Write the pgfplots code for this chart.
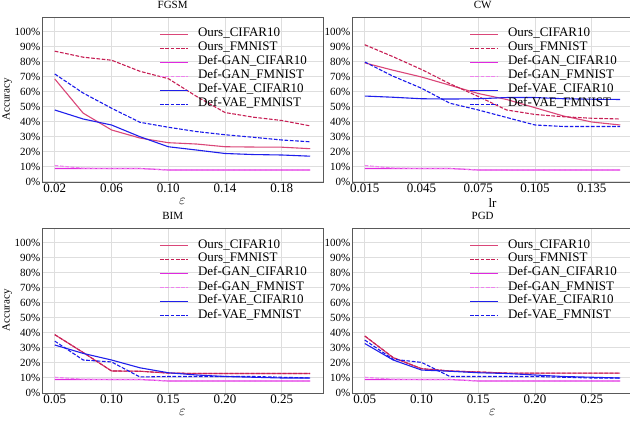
\documentclass[border=0pt]{standalone}
\usepackage{pgfplots}
\pgfplotsset{compat=1.18}
\usepackage{fontspec}
\setmainfont{Liberation Serif}
\definecolor{oursC}{rgb}{0.855,0.275,0.47}
\definecolor{oursF}{rgb}{0.78,0.12,0.33}
\definecolor{ganC}{rgb}{0.88,0.16,0.88}
\definecolor{ganF}{rgb}{0.933,0.51,0.933}
\definecolor{vaeC}{rgb}{0.12,0.12,0.92}
\definecolor{vaeF}{rgb}{0.1,0.1,0.92}
\definecolor{gridc}{rgb}{0.87,0.87,0.87}
\definecolor{framec}{rgb}{0.35,0.35,0.35}
\tikzset{
  oc/.style={color=oursC, line width=1.1bp},
  of/.style={color=oursF, line width=1.1bp, dash pattern=on 3.7bp off 1.6bp},
  gc/.style={color=ganC, line width=1.1bp},
  gf/.style={color=ganF, line width=1.1bp, dash pattern=on 3.7bp off 1.6bp},
  vc/.style={color=vaeC, line width=1.1bp},
  vf/.style={color=vaeF, line width=1.1bp, dash pattern=on 3.7bp off 1.6bp},
  legtext/.style={anchor=west, inner sep=0pt, outer sep=0pt, text height=9.5bp, text depth=4.5bp,
    font=\fontsize{13bp}{13bp}\selectfont},
}
% legend: sample lines drawn as short plots (x from #1 to #2), text as nodes
\newcommand{\mylegend}[2]{%
  \addplot[oc, line width=1.4bp, forget plot] coordinates {(#1,98.333) (#2,98.333)};
  \addplot[of, line width=1.4bp, forget plot] coordinates {(#1,89.0) (#2,89.0)};
  \addplot[gc, line width=1.4bp, forget plot] coordinates {(#1,79.667) (#2,79.667)};
  \addplot[gf, line width=1.4bp, forget plot] coordinates {(#1,70.333) (#2,70.333)};
  \addplot[vc, line width=1.4bp, forget plot] coordinates {(#1,61.0) (#2,61.0)};
  \addplot[vf, line width=1.4bp, forget plot] coordinates {(#1,51.667) (#2,51.667)};
  \node[legtext] at (rel axis cs:0.5552,0.89394) {Ours\_CIFAR10};
  \node[legtext] at (rel axis cs:0.5552,0.80909) {Ours\_FMNIST};
  \node[legtext] at (rel axis cs:0.5552,0.72424) {Def-GAN\_CIFAR10};
  \node[legtext] at (rel axis cs:0.5552,0.63939) {Def-GAN\_FMNIST};
  \node[legtext] at (rel axis cs:0.5552,0.55455) {Def-VAE\_CIFAR10};
  \node[legtext] at (rel axis cs:0.5552,0.46970) {Def-VAE\_FMNIST};
}
\pgfplotsset{
  myax/.style={
    scale only axis, width=281bp, height=165bp, anchor=south west,
    ymin=0, ymax=110,
    ytick={0,10,20,30,40,50,60,70,80,90,100},
    yticklabels={0\%,10\%,20\%,30\%,40\%,50\%,60\%,70\%,80\%,90\%,100\%},
    grid=major, major grid style={draw=gridc, line width=1bp},
    axis line style={draw=framec, line width=0.9bp},
    major tick length=0pt,
    yticklabel style={font=\fontsize{11bp}{11bp}\selectfont, inner sep=1.5bp},
    xticklabel style={font=\fontsize{13bp}{13bp}\selectfont, inner sep=2bp},
    xlabel style={font=\fontsize{15bp}{15bp}\selectfont, inner sep=1bp, yshift=-2bp},
    ylabel style={font=\fontsize{11bp}{11bp}\selectfont, inner sep=1bp},
    title style={font=\fontsize{11bp}{11bp}\selectfont, at={(0.465,1)}, anchor=south, inner sep=2.5bp},
  },
}
\begin{document}
\begin{tikzpicture}
% FGSM
\begin{axis}[myax, at={(42bp,240bp)}, title={FGSM}, xlabel={$\varepsilon$}, ylabel={Accuracy},
  xmin=0.011, xmax=0.209, xtick={0.02,0.06,0.10,0.14,0.18}, xticklabels={0.02,0.06,0.10,0.14,0.18}]
\addplot[oc] coordinates {(0.02,68.7) (0.04,45.9) (0.06,34.7) (0.08,29.3) (0.10,26.2) (0.12,25.3) (0.14,23.5) (0.16,23.3) (0.18,23.2) (0.20,22.2)};
\addplot[of] coordinates {(0.02,87.2) (0.04,83.2) (0.06,81.2) (0.08,73.8) (0.10,68.9) (0.12,57) (0.14,46.3) (0.16,43.2) (0.18,41) (0.20,37.4)};
\addplot[gc] coordinates {(0.02,9) (0.04,9) (0.06,9) (0.08,9) (0.10,8) (0.12,8) (0.14,8) (0.16,8) (0.18,8) (0.20,8)};
\addplot[gf] coordinates {(0.02,11) (0.04,9.2) (0.06,9) (0.08,9) (0.10,8) (0.12,8) (0.14,8) (0.16,8) (0.18,8) (0.20,8)};
\addplot[vc] coordinates {(0.02,48) (0.04,42) (0.06,38) (0.08,30.2) (0.10,23.5) (0.12,21.3) (0.14,19) (0.16,18.3) (0.18,18) (0.20,17.2)};
\addplot[vf] coordinates {(0.02,72) (0.04,59.3) (0.06,49.2) (0.08,39.8) (0.10,36.5) (0.12,33.6) (0.14,31.5) (0.16,29.8) (0.18,28) (0.20,26.8)};
\mylegend{0.09414}{0.11388}
\end{axis}
% CW
\begin{axis}[myax, at={(352bp,240bp)}, title={CW}, xlabel={lr}, xlabel style={font=\fontsize{13bp}{13bp}\selectfont},
  xmin=0.00825, xmax=0.15675, xtick={0.015,0.045,0.075,0.105,0.135}, xticklabels={0.015,0.045,0.075,0.105,0.135}]
\addplot[oc] coordinates {(0.015,79.4) (0.03,74.5) (0.045,70) (0.06,64.5) (0.075,59) (0.09,55) (0.105,49.5) (0.12,44) (0.135,40) (0.15,38)};
\addplot[of] coordinates {(0.015,91.5) (0.03,83.5) (0.045,75) (0.06,65.5) (0.075,57) (0.09,48) (0.105,45) (0.12,43.5) (0.135,42.5) (0.15,42)};
\addplot[gc] coordinates {(0.015,9) (0.03,9) (0.045,9) (0.06,9) (0.075,8) (0.09,8) (0.105,8) (0.12,8) (0.135,8) (0.15,8)};
\addplot[gf] coordinates {(0.015,11) (0.03,9.3) (0.045,9) (0.06,9) (0.075,8) (0.09,8) (0.105,8) (0.12,8) (0.135,8) (0.15,8)};
\addplot[vc] coordinates {(0.015,57.3) (0.03,56.5) (0.045,55.5) (0.06,55.3) (0.075,55.5) (0.09,56.3) (0.105,56.3) (0.12,55.5) (0.135,55.2) (0.15,55)};
\addplot[vf] coordinates {(0.015,80) (0.03,70.5) (0.045,62.5) (0.06,52.5) (0.075,48) (0.09,43) (0.105,38) (0.12,37) (0.135,37) (0.15,37)};
\mylegend{0.07061}{0.08541}
\end{axis}
% BIM
\begin{axis}[myax, at={(42bp,29bp)}, title={BIM}, xlabel={$\varepsilon$}, ylabel={Accuracy},
  xmin=0.03875, xmax=0.28625, xtick={0.05,0.10,0.15,0.20,0.25}, xticklabels={0.05,0.10,0.15,0.20,0.25}]
\addplot[oc] coordinates {(0.05,38.9) (0.075,27) (0.10,14.7) (0.125,14.5) (0.15,13.3) (0.175,13) (0.20,13) (0.225,13) (0.25,13) (0.275,13)};
\addplot[of] coordinates {(0.05,38.9) (0.075,27) (0.10,14.7) (0.125,14.5) (0.15,13.3) (0.175,13) (0.20,13) (0.225,13) (0.25,13) (0.275,13)};
\addplot[gc] coordinates {(0.05,9) (0.075,9) (0.10,9) (0.125,9) (0.15,8) (0.175,8) (0.20,8) (0.225,8) (0.25,8) (0.275,8)};
\addplot[gf] coordinates {(0.05,10.5) (0.075,9.2) (0.10,9) (0.125,9) (0.15,8) (0.175,8) (0.20,8) (0.225,8) (0.25,8) (0.275,8)};
\addplot[vc] coordinates {(0.05,32) (0.075,26.4) (0.10,22) (0.125,16.8) (0.15,13.5) (0.175,12) (0.20,11) (0.225,10.5) (0.25,10) (0.275,10)};
\addplot[vf] coordinates {(0.05,34.6) (0.075,22) (0.10,20.7) (0.125,10.7) (0.15,11) (0.175,11) (0.20,11) (0.225,11) (0.25,10.5) (0.275,10)};
\mylegend{0.14268}{0.16735}
\end{axis}
% PGD
\begin{axis}[myax, at={(352bp,29bp)}, title={PGD}, xlabel={$\varepsilon$},
  xmin=0.03875, xmax=0.28625, xtick={0.05,0.10,0.15,0.20,0.25}, xticklabels={0.05,0.10,0.15,0.20,0.25}]
\addplot[oc] coordinates {(0.05,38) (0.075,23.6) (0.10,16.2) (0.125,14.7) (0.15,14) (0.175,13.3) (0.20,13.2) (0.225,13.2) (0.25,13.2) (0.275,13.2)};
\addplot[of] coordinates {(0.05,38) (0.075,23.6) (0.10,16.2) (0.125,14.7) (0.15,14) (0.175,13.3) (0.20,13.2) (0.225,13.2) (0.25,13.2) (0.275,13.2)};
\addplot[gc] coordinates {(0.05,9) (0.075,9) (0.10,9) (0.125,9) (0.15,8) (0.175,8) (0.20,8) (0.225,8) (0.25,8) (0.275,8)};
\addplot[gf] coordinates {(0.05,10.5) (0.075,9.2) (0.10,9) (0.125,9) (0.15,8) (0.175,8) (0.20,8) (0.225,8) (0.25,8) (0.275,8)};
\addplot[vc] coordinates {(0.05,33) (0.075,22) (0.10,15.3) (0.125,14.5) (0.15,13.5) (0.175,13) (0.20,12) (0.225,11) (0.25,10.5) (0.275,10)};
\addplot[vf] coordinates {(0.05,35.3) (0.075,22.5) (0.10,20.4) (0.125,11) (0.15,11) (0.175,11) (0.20,11) (0.225,10.5) (0.25,10) (0.275,10)};
\mylegend{0.14268}{0.16735}
\end{axis}
\pgfresetboundingbox
\path[use as bounding box] (0,0) rectangle (630bp,422bp);
\end{tikzpicture}
\end{document}
